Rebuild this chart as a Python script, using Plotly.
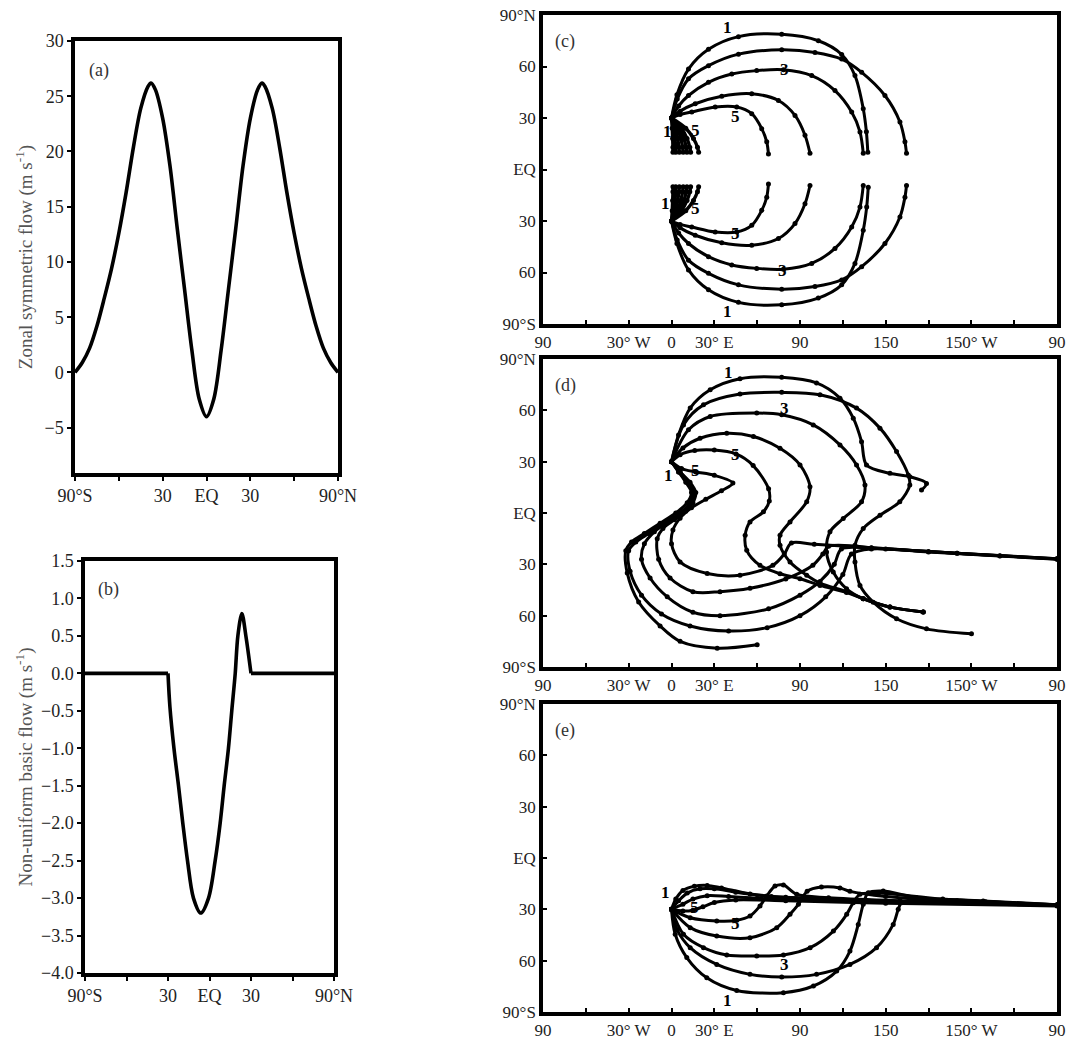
import plotly.graph_objects as go

# ---------------- data ----------------
# (a) zonal symmetric flow
lat_a = [-90, -85, -80, -75, -70, -65, -60, -55, -50, -45, -40, -38, -35, -30, -25, -20, -15, -10, -5, 0,
         5, 10, 15, 20, 25, 30, 35, 38, 40, 45, 50, 55, 60, 65, 70, 75, 80, 85, 90]
u_a = [0, 0.9, 2.2, 4.2, 6.7, 9.4, 12.6, 16.3, 20.4, 23.9, 25.9, 26.2, 25.6, 23.0, 18.7, 13.0, 7.5, 2.0, -2.4, -4.0,
       -2.4, 2.0, 7.5, 13.0, 18.7, 23.0, 25.6, 26.2, 25.9, 23.9, 20.4, 16.3, 12.6, 9.4, 6.7, 4.2, 2.2, 0.9, 0]

# (b) non-uniform basic flow: flat parts and the dip
lat_b_flat_s = [-90, -30]
lat_b_flat_n = [30, 90]
u_b_flat = [0, 0]
lat_b = [-30, -28.6, -25.7, -22.4, -19.3, -15.9, -11.6, -6.3, -0.7, 4.1, 7.7, 10.6, 13.7, 16.1, 18.6,
         20.5, 23.4, 26.3, 30]
u_b = [0, -0.45, -1.0, -1.5, -2.0, -2.5, -3.0, -3.2, -3.0, -2.5, -2.0, -1.5, -1.0, -0.5, 0,
       0.5, 0.8, 0.5, 0]

# (c) rays, northern source
c_n1_lon = [0, 3.8, 11.9, 25.9, 46.9, 77.2, 102.9, 119.2, 128.5, 134.3, 136.5, 137.5]
c_n1_lat = [30, 43.5, 58.5, 70.0, 77.4, 78.8, 75.0, 67.0, 54.7, 35.4, 22.0, 10.0]
c_n2_lon = [0, 4.0, 11.9, 25.9, 46.9, 77.2, 100.5, 119.2, 133.2, 149.5, 160.0, 163.5, 164.6]
c_n2_lat = [30, 41.0, 52.8, 60.5, 67.2, 69.7, 68.2, 64.3, 56.6, 43.1, 27.7, 16.1, 9.5]
c_n3_lon = [0, 5.0, 11.9, 25.9, 42.2, 59.7, 78.4, 98.2, 114.5, 126.2, 132.0, 134.3]
c_n3_lat = [30, 37.0, 43.1, 50.8, 55.6, 57.6, 58.1, 54.7, 46.0, 33.5, 21.9, 9.5]
c_n4_lon = [0, 6.0, 16.6, 35.2, 56.2, 74.9, 86.5, 93.5, 97.0]
c_n4_lat = [30, 34.0, 38.3, 42.7, 44.1, 40.2, 31.5, 20.0, 9.5]
c_n5_lon = [0, 6.0, 14.2, 30.6, 45.7, 56.2, 63.2, 66.7, 67.9]
c_n5_lat = [30, 32.0, 33.5, 36.4, 36.4, 32.5, 23.8, 16.1, 9.0]
# (c) rays, southern source
c_s1_lon = [0, 3.8, 11.9, 25.9, 46.9, 77.2, 102.8, 119.2, 128.5, 134.3, 136.7, 137.8]
c_s1_lat = [-30, -43.1, -58.5, -70.1, -77.4, -78.8, -74.9, -67.2, -54.7, -35.4, -21.9, -10.3]
c_s2_lon = [0, 4.0, 11.9, 25.9, 46.9, 77.2, 100.5, 119.2, 133.2, 149.5, 160.0, 163.5, 164.6]
c_s2_lat = [-30, -41.0, -52.8, -60.5, -67.2, -69.7, -68.2, -64.3, -56.6, -43.1, -27.7, -16.1, -9.3]
c_s3_lon = [0, 5.0, 11.9, 25.9, 42.2, 59.7, 78.4, 98.2, 114.5, 126.2, 132.0, 134.3]
c_s3_lat = [-30, -37.0, -43.1, -50.8, -55.6, -57.6, -58.1, -54.7, -46.0, -33.5, -21.9, -9.3]
c_s4_lon = [0, 6.0, 16.6, 35.2, 56.2, 74.9, 86.5, 93.5, 97.0]
c_s4_lat = [-30, -34.0, -38.3, -42.7, -44.1, -40.2, -31.5, -20.0, -9.3]
c_s5_lon = [0, 6.0, 14.2, 30.6, 45.7, 56.2, 63.2, 66.7, 67.9]
c_s5_lat = [-30, -32.0, -33.5, -36.4, -36.4, -32.5, -23.8, -16.1, -8.4]
# (c) short rays near the source (end longitudes differ)
c_short_lon = [[0, 0.5, 0.8, 1.0, 1.0],
               [0, 1.5, 2.4, 2.9, 3.0],
               [0, 2.8, 4.3, 5.2, 5.5],
               [0, 4.2, 6.5, 7.8, 8.2],
               [0, 5.6, 8.7, 10.3, 10.8],
               [0, 7.0, 10.9, 12.8, 13.4],
               [0, 10.0, 15.4, 18.2, 19.0]]
c_short_lat_n = [30, 24, 18, 13, 10]
c_short_lat_s = [-30, -24, -18, -13, -10]

# (d) rays
d1_lon = [0, 4.9, 13.1, 27.1, 48.0, 77.2, 101.6, 118.0, 127.3, 133.1, 136.6, 153.0, 166.9, 178.6, 175.1]
d1_lat = [30, 45.6, 61.3, 72.0, 78.5, 79.3, 76.0, 67.1, 55.4, 41.7, 28.1, 23.2, 21.2, 17.3, 13.4]
d2_lon = [0, 8.4, 22.4, 48.0, 77.2, 104.0, 129.6, 146.0, 157.6, 165.8, 166.9, 159.9, 146.0, 134.3, 128.5,
          128.5, 132.0, 141.3, 157.6, 178.6, 210.1]
d2_lat = [30, 51.5, 63.2, 69.5, 70.5, 69.1, 61.3, 49.6, 35.9, 22.2, 16.3, 6.6, -1.3, -9.1, -18.8,
          -28.6, -42.3, -52.1, -61.8, -67.7, -70.6]
d3_lon = [0, 11.9, 27.1, 59.7, 77.2, 99.3, 118.0, 129.6, 135.5, 133.1, 120.3, 111.0, 108.6, 113.3, 122.6,
          134.3, 153.0, 176.3]
d3_lat = [30, 48.6, 56.4, 58.4, 57.4, 51.5, 39.8, 28.1, 16.3, 6.6, -3.2, -11.0, -22.8, -34.5, -44.3,
          -50.1, -55.0, -57.9]
d4_lon = [0, 8, 20, 38.7, 57.4, 76, 90, 97, 94.7, 83, 76, 76, 83, 94.7, 104, 122.6, 134.3, 153, 176.3]
d4_lat = [30, 38, 43.7, 46.6, 44.7, 37.8, 28.1, 15.4, 6.6, -5.2, -13, -18.8, -28.6, -36.4, -41, -46, -50.1, -55, -57.9]
d5_lon = [0, 6, 16.3, 30, 45.2, 57.2, 68, 68.5, 64.4, 55, 51.6, 52.7, 62, 76, 90, 104, 122.6, 134.3, 153, 176.3]
d5_lat = [30, 34, 36.5, 36.8, 34.5, 27.7, 14.1, 7.0, 0.7, -5.2, -13, -21.8, -30.6, -35.5, -38.4, -42.3, -46.5,
          -50.1, -55, -57.9]
# (d) looping rays that leave the source toward the south-west
dc1_lon = [0, 5, 10, 14, 11, 3, -8, -19, -28, -32, -31, -23, -8, 6, 32, 60]
dc1_lat = [30, 24, 18, 12, 6, 0, -6, -12, -17, -22, -35, -52, -66, -75, -79, -77]
dc2_lon = [0, 5, 11, 15, 13, 6, -5, -16, -25, -30, -29, -21, -7, 13, 40, 67, 90, 108, 120, 126, 140, 180, 230, 270]
dc2_lat = [30, 24, 18, 12, 6, 0, -6, -12, -17, -22, -34, -48, -59, -66, -69, -67, -60, -49, -36, -24, -21,
           -22.8, -25.2, -27.0]
dc3_lon = [0, 6, 12, 16, 14, 8, -2, -12, -19, -21, -15, -3, 15, 34, 68, 90, 104, 114, 119, 140, 180, 230, 270]
dc3_lat = [30, 24, 18, 12, 6, 0, -5, -11, -18, -27, -38, -49, -58, -60, -56, -48, -40, -30, -21, -20.5, -22.5,
           -25.0, -26.9]
dc4_lon = [0, 6, 13, 17, 15, 10, 2, -6, -10, -9, -1, 15, 34, 55, 80, 99, 106, 110, 150, 200, 270]
dc4_lat = [30, 24, 18, 12, 6, 1, -4, -9, -15, -27, -38, -46, -46, -44, -38.5, -30.5, -24, -19.5, -21, -23.5, -26.8]
dc5_lon = [0, 7, 17, 30, 43, 35, 24, 14, 6, 1, 0, 6, 25, 48, 71, 79, 84, 100, 140, 200, 270]
dc5_lat = [30, 26, 24, 22, 17.5, 13, 8, 3, -3, -10, -18, -28.6, -35.4, -36.4, -30.6, -24, -17.5, -18.3, -20.3,
           -23.5, -26.7]

# (e) rays
e1_lon = [0, 2.6, 10.7, 24.7, 45.7, 78.4, 99.4, 115.7, 125.0, 130.8, 134.3, 137.8, 148.3, 171.6, 218.3, 270]
e1_lat = [-30, -44.6, -58.2, -70.0, -77.4, -78.7, -74.8, -66.1, -54.4, -38.8, -27.1, -20.3, -19.3, -23.2, -25.1, -27.3]
e2_lon = [0, 4, 13.1, 31.7, 55, 77.2, 101.6, 125, 143.6, 155.3, 158.8, 161.2, 175, 220, 270]
e2_lat = [-30, -42, -52.4, -62.2, -68, -69.6, -68, -62.2, -52.4, -38.8, -30, -26.1, -24, -25.5, -27.5]
e3_lon = [0, 8.4, 22.4, 38.7, 59.7, 78.4, 97.1, 113.4, 122.7, 127.3, 132, 145, 190, 270]
e3_lat = [-30, -44.6, -52.4, -56.7, -57.3, -56.7, -52.4, -42.7, -32.9, -26.1, -21.2, -20.5, -24, -27.4]
e4_lon = [0, 13.1, 31.7, 55, 73.7, 83, 88.9, 95, 105, 118, 125, 150, 200, 270]
e4_lat = [-30, -40.7, -45.6, -46.6, -40.7, -32.9, -27.1, -19.5, -17, -17.5, -19.5, -22.5, -25, -27.6]
e5_lon = [0, 13.1, 31.7, 45.7, 55, 62, 66.7, 72.5, 78.4, 87.7, 110, 160, 220, 270]
e5_lat = [-30, -34.9, -36.8, -36.4, -33.9, -28, -22.2, -16.4, -15.8, -21.2, -23.2, -25, -26.5, -27.7]
e_short_lon = [[0, 3, 8, 16, 25, 35, 55, 80, 120, 170, 220, 270],
               [0, 5, 11, 20, 30, 45, 70, 110, 170, 270],
               [0, 8, 15, 25, 40, 60, 100, 170, 270],
               [0, 8, 15, 22, 30, 45, 80, 150, 270]]
e_short_lat = [[-30, -24, -19, -16.5, -16, -17.5, -21, -23, -24.5, -25.5, -26.5, -27.5],
               [-30, -25, -20.5, -18, -18, -20, -22.5, -24, -25.5, -27.5],
               [-30, -27, -24, -22, -22.5, -23.5, -24.5, -26, -27.8],
               [-30, -31, -30.5, -28.5, -26, -24.5, -25, -26.5, -28]]

# tick labels
lat_ticks_ab = [-90, -30, 0, 30, 90]
lat_text_ab = ["90°S", "30", "EQ", "30", "90°N"]
lon_ticks = [-90, -30, 0, 30, 90, 150, 210, 270]
lon_text = ["90", "30° W", "0", "30° E", "90", "150", "150° W", "90"]
lat_ticks = [90, 60, 30, 0, -30, -60, -90]
lat_text = ["90°N", "60", "30", "EQ", "30", "60", "90°S"]

# ---------------- figure ----------------
W, H = 1069, 1041
FONT = "Liberation Serif, Times New Roman, serif"
fig = go.Figure()


def px_dom(x0, x1):
    return [x0 / W, x1 / W]


def py_dom(y0, y1):
    return [1 - y1 / H, 1 - y0 / H]


def curve(x, y, ax, spline=True, markers=False, width=3.0):
    fig.add_trace(go.Scatter(
        x=x, y=y, xaxis="x" + ax, yaxis="y" + ax,
        mode="lines+markers" if markers else "lines",
        line=dict(color="black", width=width, shape="spline" if spline else "linear", smoothing=0.9),
        marker=dict(color="black", size=5),
        showlegend=False, hoverinfo="skip"))


curve(lat_a, u_a, "", width=3.6)
curve(lat_b_flat_s, u_b_flat, "2", spline=False, width=3.6)
curve(lat_b_flat_n, u_b_flat, "2", spline=False, width=3.6)
curve(lat_b, u_b, "2", width=3.6)

for lo, la in [(c_n1_lon, c_n1_lat), (c_n2_lon, c_n2_lat), (c_n3_lon, c_n3_lat), (c_n4_lon, c_n4_lat),
               (c_n5_lon, c_n5_lat), (c_s1_lon, c_s1_lat), (c_s2_lon, c_s2_lat), (c_s3_lon, c_s3_lat),
               (c_s4_lon, c_s4_lat), (c_s5_lon, c_s5_lat)]:
    curve(lo, la, "3", markers=True)
for lo in c_short_lon:
    curve(lo, c_short_lat_n, "3", markers=True, width=3.4)
    curve(lo, c_short_lat_s, "3", markers=True, width=3.4)

for lo, la in [(d1_lon, d1_lat), (d2_lon, d2_lat), (d3_lon, d3_lat), (d4_lon, d4_lat), (d5_lon, d5_lat),
               (dc1_lon, dc1_lat), (dc2_lon, dc2_lat), (dc3_lon, dc3_lat), (dc4_lon, dc4_lat),
               (dc5_lon, dc5_lat)]:
    curve(lo, la, "4", markers=True)

for lo, la in [(e1_lon, e1_lat), (e2_lon, e2_lat), (e3_lon, e3_lat), (e4_lon, e4_lat), (e5_lon, e5_lat)]:
    curve(lo, la, "5", markers=True)
for lo, la in zip(e_short_lon, e_short_lat):
    curve(lo, la, "5", markers=True)

frame = dict(showline=True, linecolor="black", linewidth=3.5, mirror=True,
             tickwidth=2, tickcolor="black", showgrid=False, zeroline=False, automargin=False)
font_ab = dict(family=FONT, size=18, color="#222")
font_ce = dict(family=FONT, size=17, color="#222")
minor_lat = dict(tick0=-90, dtick=30, ticks="outside", ticklen=4, tickwidth=2, tickcolor="black", showgrid=False)

lay = dict(
    width=W, height=H, margin=dict(l=0, r=0, t=0, b=0),
    paper_bgcolor="white", plot_bgcolor="white",
    xaxis=dict(domain=px_dom(75, 338), range=[-90, 90], tickvals=lat_ticks_ab, ticktext=lat_text_ab,
               anchor="y", tickfont=font_ab, minor=minor_lat, ticks="outside", ticklen=4, **frame),
    yaxis=dict(domain=py_dom(41, 473), range=[-9.1, 30], tickvals=[-5, 0, 5, 10, 15, 20, 25, 30], anchor="x",
               tickfont=font_ab, ticks="outside", ticklen=4,
               title=dict(text="Zonal symmetric flow (m s<sup>-1</sup>)",
                          font=dict(family=FONT, size=19, color="#555"), standoff=8), **frame),
    xaxis2=dict(domain=px_dom(85, 334), range=[-90, 90], tickvals=lat_ticks_ab, ticktext=lat_text_ab,
                anchor="y2", tickfont=font_ab, minor=minor_lat, ticks="outside", ticklen=4, **frame),
    yaxis2=dict(domain=py_dom(561, 973), range=[-4, 1.5], dtick=0.5, tick0=-4, tickformat=".1f",
                anchor="x2", tickfont=font_ab, ticks="outside", ticklen=4,
                title=dict(text="Non-uniform basic flow (m s<sup>-1</sup>)",
                           font=dict(family=FONT, size=19, color="#555"), standoff=4), **frame),
)
minor_lon = dict(tick0=-90, dtick=30, ticks="inside", ticklen=4, tickwidth=2, tickcolor="black", showgrid=False)
for i, (y0, y1) in zip(["3", "4", "5"], [(15, 324), (359, 667), (704, 1012)]):
    lay["xaxis" + i] = dict(domain=px_dom(543, 1057), range=[-90, 270], tickvals=lon_ticks, ticktext=lon_text,
                            anchor="y" + i, tickfont=font_ce, minor=minor_lon, ticks="inside", ticklen=4,
                            **frame)
    lay["yaxis" + i] = dict(domain=py_dom(y0, y1), range=[-90, 90], tickvals=lat_ticks, ticktext=lat_text,
                            anchor="x" + i, tickfont=font_ce, ticks="inside", ticklen=4, **frame)
fig.update_layout(**lay)

# panel letters
for txt, ax, x, y in [("(a)", "", 0.045, 0.96), ("(b)", "2", 0.045, 0.96), ("(c)", "3", 0.02, 0.955),
                      ("(d)", "4", 0.02, 0.955), ("(e)", "5", 0.02, 0.955)]:
    fig.add_annotation(text=txt, xref=("x" + ax + " domain"), yref=("y" + ax + " domain"), x=x, y=y,
                       xanchor="left", yanchor="top", showarrow=False,
                       font=dict(family=FONT, size=18, color="#333"))

# ray number labels
labfont = dict(family=FONT, size=17, color="black")
ray_labels = [
    ("3", "1", 39, 83), ("3", "3", 79, 58), ("3", "5", 45, 31), ("3", "1", -3, 22), ("3", "5", 17, 23),
    ("3", "1", 39, -83), ("3", "3", 78, -59), ("3", "5", 45, -37), ("3", "1", -4, -20), ("3", "5", 17, -23),
    ("4", "1", 40, 82), ("4", "3", 79, 61), ("4", "5", 45, 34), ("4", "1", -2, 22), ("4", "5", 17, 25),
    ("5", "1", 39, -83), ("5", "3", 79, -62), ("5", "5", 45, -38), ("5", "1", -4, -20), ("5", "5", 16, -29),
]
for ax, t, x, y in ray_labels:
    fig.add_annotation(text="<b>" + t + "</b>", xref="x" + ax, yref="y" + ax, x=x, y=y, showarrow=False,
                       font=labfont)

fig.write_html("out.html", config={"displayModeBar": False},
               post_script="document.body.style.margin='0';document.body.style.overflow='hidden';")
